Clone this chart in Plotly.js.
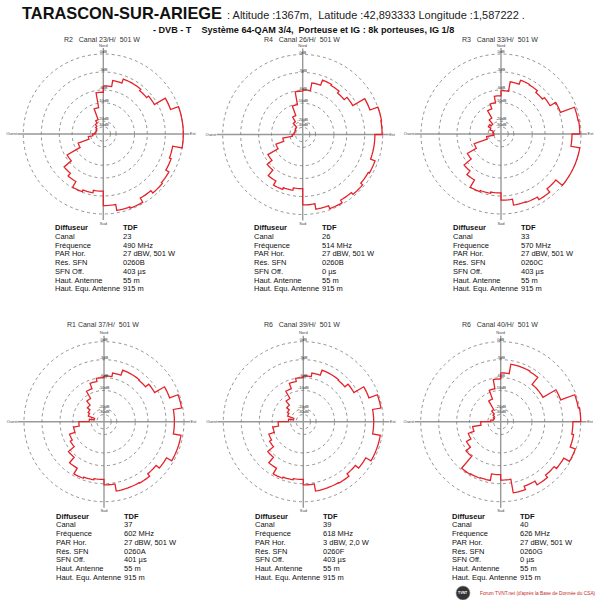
<!DOCTYPE html>
<html><head><meta charset="utf-8">
<script src="https://cdn.plot.ly/plotly-3.0.1.min.js"></script>
<style>html,body{margin:0;padding:0;background:#fff}#chart{width:600px;height:600px}</style>
</head><body><div id="chart"></div>
<script>
// ---- data ----
const sectorStart = [0,10,20,30,40,50,60,70,80,90,100,110,120,130,140,150,160,170,180,190,200,210,220,230,240,250,260,270,280,290,300,310,320,330,340,350];

const pattern23 = [-5.3,-4.3,-3.6,-3.6,-3.9,-3.5,-1.4,0,0,0,-1.6,-1.3,-0.7,-0.5,-1.0,-0.2,-0.4,-1.4,
                   -3.8,-3.4,-3.1,-4.2,-4.8,-6.7,-12.4,-18.7,-23.9,-27.8,-29,-29,-27.8,-25,-20.6,-18.7,-12.4,-6.7];
const pattern26 = [-5.9,-4.6,-3.7,-3.9,-4.3,-3.7,-1.4,0,-0.1,-1.3,-1.3,-0.5,-0.7,-0.3,-0.7,-0.2,-0.7,-1.6,
                   -4.3,-3.9,-3.6,-4.4,-5.6,-7.2,-11.5,-16,-24,-27,-28,-28,-27,-26,-19,-16,-10.5,-6.2];
const pattern33 = [-6.2,-4.5,-3.8,-3.9,-4.3,-3.9,-2.8,-0.3,-0.2,-1.5,0,0,0,-1.4,-0.7,-1.2,-1.3,-2.3,
                   -3.5,-3.3,-3.1,-4.5,-5.3,-7.6,-11.5,-19,-30,-29,-28,-22,-19,-20,-17,-12.4,-9.8,-7.8];
const pattern37 = [-5.7,-5.1,-4.2,-4.2,-4.3,-3.6,-1.7,-0.2,-1.6,-1.6,-0.3,-0.3,-1.3,-2.0,-1.5,-1.6,-1.6,-2.8,
                   -3.7,-3.5,-3.3,-4.4,-5.6,-7.6,-8.3,-10.2,-13.3,-18.9,-25,-17.9,-17,-15.2,-12.4,-8.8,-7,-6];
const pattern39 = [-5.7,-5.1,-4.2,-4.2,-4.3,-3.6,-1.7,-0.2,-1.6,-1.6,-0.3,-0.3,-1.3,-2.0,-1.5,-1.6,-1.6,-2.8,
                   -3.7,-3.5,-3.3,-4.4,-5.6,-7.6,-8.3,-10.2,-13.3,-18.9,-25,-17.9,-17,-15.2,-12.4,-8.8,-7,-6];
const pattern40 = [-5.2,-3.6,-3.6,-3.7,-5.2,-5.2,-2.7,-0.2,0,-1.3,-1.0,-0.1,-1.2,-1.7,-1.2,-1.9,-1.3,-3.6,
                   -4.5,-3.4,-3.3,-3.2,-5.8,-7.4,-9,-11.5,-16.1,-25,-29,-30,-28,-25,-19.4,-13.9,-9.3,-6.4];

const ringDb = [0,-3,-6,-10,-20,-30];
const ringLabels = ['0dB','-3dB','-6dB','-10dB','-20dB','-30dB'];
const compassLabels = ['Nord','Est','Sud','Ouest'];

// radial scale of the diagram (dB -> relative radius)
const scaleDb = [0,-3,-6,-10,-20,-30,-40];
const scaleR  = [1,0.775,0.55,0.39,0.16,0.09,0];

const plotTitles = ['R2   Canal 23/H/  501 W','R4   Canal 26/H/  501 W','R3   Canal 33/H/  501 W',
                    'R1 Canal 37/H/  501 W','R6   Canal 39/H/  501 W','R6   Canal 40/H/  501 W'];
const rowLabels = ['Diffuseur','Canal','Fréquence','PAR Hor.','Rés. SFN','SFN Off.','Haut. Antenne','Haut. Equ. Antenne'];
const diffuseur = ['TDF','TDF','TDF','TDF','TDF','TDF'];
const canal = ['23','26','33','37','39','40'];
const frequence = ['490 MHz','514 MHz','570 MHz','602 MHz','618 MHz','626 MHz'];
const parHor = ['27 dBW, 501 W','27 dBW, 501 W','27 dBW, 501 W','27 dBW, 501 W','3 dBW, 2,0 W','27 dBW, 501 W'];
const resSfn = ['0260B','0260B','0260C','0260A','0260F','0260G'];
const sfnOff = ['403 µs','0 µs','403 µs','401 µs','403 µs','0 µs'];
const hautAnt = ['55 m','55 m','55 m','55 m','55 m','55 m'];
const hautEqu = ['915 m','915 m','915 m','915 m','915 m','915 m'];

const mainTitle = 'TARASCON-SUR-ARIEGE';
const subTitle1 = ' : Altitude :1367m,  Latitude :42,893333 Longitude :1,587222 .';
const subTitle2 = '- DVB - T    Système 64-QAM 3/4,  Porteuse et IG : 8k porteuses, IG 1/8';
const footer = "Forum TVNT.net (d'après la Base de Donnée du CSA)";

// ---- layout geometry ----
const W = 600, H = 600, RAD = 86, R0 = 80;
const centers = [[103.3,134],[302.7,134.5],[501,134],[104,421.7],[303.3,421.7],[500.7,421.7]];
const patterns = [pattern23,pattern26,pattern33,pattern37,pattern39,pattern40];

function toR(db){
  if (db >= scaleDb[0]) return scaleR[0];
  for (let i=1;i<scaleDb.length;i++){
    if (db >= scaleDb[i]){
      const t = (db - scaleDb[i-1])/(scaleDb[i]-scaleDb[i-1]);
      return scaleR[i-1] + t*(scaleR[i]-scaleR[i-1]);
    }
  }
  return 0;
}

const FONT = 'Liberation Sans, Arial, Helvetica, sans-serif';
const traces = [];
const layout = {
  width: W, height: H, margin:{l:0,r:0,t:0,b:0}, paper_bgcolor:'#fff', showlegend:false,
  font:{family:FONT, color:'#222'}, annotations:[], shapes:[]
};
const px = x => x/W, py = y => 1 - y/H;

patterns.forEach((db, k) => {
  const sp = k === 0 ? 'polar' : 'polar' + (k+1);
  const [cx, cy] = centers[k];
  const th = [], rr = [];
  for (let i=0;i<sectorStart.length;i++){
    const a0 = sectorStart[i];
    const a1 = i+1 < sectorStart.length ? sectorStart[i+1] : 360;
    const r = toR(db[i]);
    for (let a=a0; a<=a1; a+=2){ th.push(a); rr.push(r); }
  }
  th.push(th[0]); rr.push(rr[0]);
  traces.push({type:'scatterpolar', mode:'lines', subplot:sp, theta:th, r:rr,
    line:{color:'#e3222a', width:1.3}, hoverinfo:'skip', showlegend:false});
  traces.push({type:'scatterpolar', mode:'text', subplot:sp, theta:ringDb.map(()=>0), r:ringDb.map(toR),
    text:ringLabels, textposition:'top center', textfont:{size:4, color:'#333', family:FONT},
    cliponaxis:false, hoverinfo:'skip', showlegend:false});
  layout[sp] = {
    domain:{x:[px(cx-RAD), px(cx+RAD)], y:[py(cy+RAD), py(cy-RAD)]},
    bgcolor:'#fff',
    radialaxis:{range:[0, RAD/R0], tickmode:'array', tickvals:ringDb.map(toR), showticklabels:false,
      ticks:'', showline:false, gridcolor:'#777', griddash:'dot', gridwidth:0.8, layer:'below traces'},
    angularaxis:{rotation:90, direction:'clockwise', tickmode:'array', tickvals:[0,90,180,270],
      ticktext:compassLabels, ticks:'', showline:false, gridcolor:'#999', gridwidth:1.4,
      tickfont:{size:4, color:'#444', family:FONT}, layer:'below traces'}
  };
  // subplot title
  layout.annotations.push({text:plotTitles[k], x:px(cx-1), y:py(k<3?39.5:324.3), xref:'paper', yref:'paper',
    xanchor:'center', yanchor:'middle', showarrow:false, font:{size:7, color:'#333'}});
  // table
  const vals = [diffuseur[k], canal[k], frequence[k], parHor[k], resSfn[k], sfnOff[k], hautAnt[k], hautEqu[k]];
  const y0 = k<3 ? 227.5 : 516;
  rowLabels.forEach((lab, i) => {
    const y = py(y0 + i*8.75);
    const bold = i === 0;
    layout.annotations.push({text: bold ? '<b>'+lab+'</b>' : lab, x:px(cx-50.5), y:y, xref:'paper', yref:'paper',
      xanchor:'left', yanchor:'middle', showarrow:false, font:{size:7.5, color:'#111'}});
    layout.annotations.push({text: bold ? '<b>'+vals[i]+'</b>' : vals[i], x:px(cx+17.5), y:y, xref:'paper', yref:'paper',
      xanchor:'left', yanchor:'middle', showarrow:false, font:{size:7.5, color:'#111'}});
  });
});

// header
layout.annotations.push({text:'<b>'+mainTitle+'</b>', x:px(20), y:py(12.5), xref:'paper', yref:'paper',
  xanchor:'left', yanchor:'middle', showarrow:false, font:{size:16.4, color:'#111'}});
layout.annotations.push({text:subTitle1, x:px(222), y:py(14.5), xref:'paper', yref:'paper',
  xanchor:'left', yanchor:'middle', showarrow:false, font:{size:11, color:'#222'}});
layout.annotations.push({text:'<b>'+subTitle2+'</b>', x:px(151), y:py(29.5), xref:'paper', yref:'paper',
  xanchor:'left', yanchor:'middle', showarrow:false, font:{size:9.1, color:'#111'}});

// footer logo + text
layout.shapes.push({type:'circle', xref:'paper', yref:'paper', x0:px(456), x1:px(470), y0:py(600), y1:py(586),
  fillcolor:'#333', line:{color:'#999', width:0.6}});
layout.annotations.push({text:'<b>TVNT</b>', x:px(463), y:py(592.5), xref:'paper', yref:'paper',
  xanchor:'center', yanchor:'middle', showarrow:false, font:{size:3.5, color:'#fff'}});
layout.annotations.push({text:footer, x:px(478), y:py(593), xref:'paper', yref:'paper',
  xanchor:'left', yanchor:'middle', showarrow:false, font:{size:4.8, color:'#c82828'}});

Plotly.newPlot('chart', traces, layout, {staticPlot:true, displayModeBar:false});
</script></body></html>
